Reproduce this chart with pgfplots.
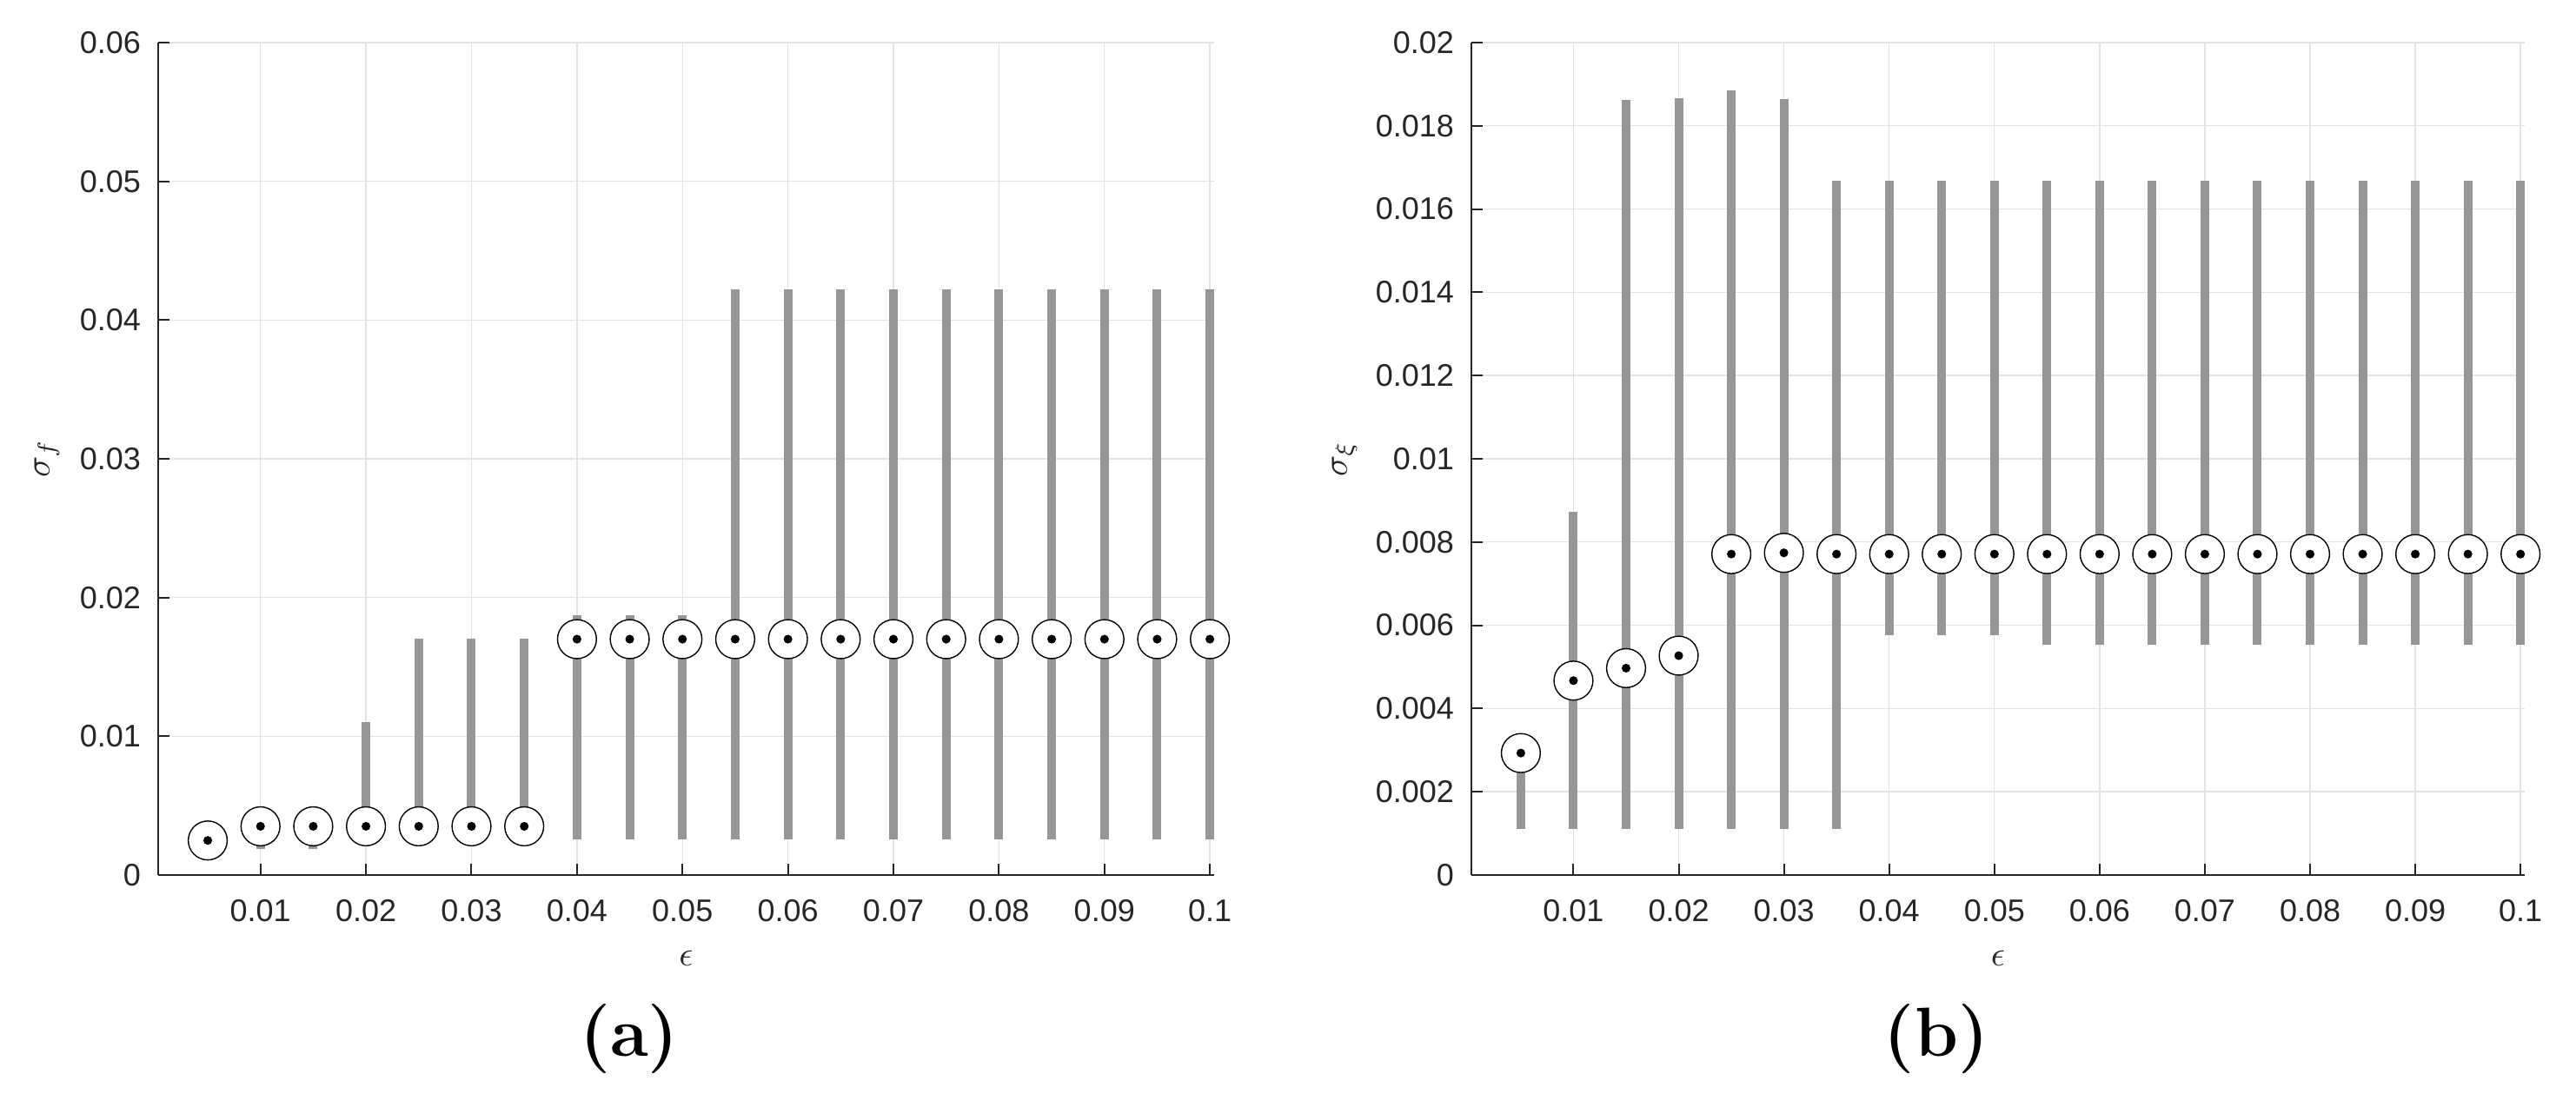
\documentclass[border=0pt]{standalone}
\usepackage{fontspec}
\newfontfamily\helv{Liberation Sans}
\usepackage{pgfplots}
\usepackage{pgfplotstable}
\pgfplotsset{compat=1.18}
\definecolor{axc}{HTML}{262626}
\definecolor{barc}{HTML}{969696}
\definecolor{gridc}{HTML}{E3E3E3}

\pgfplotstableread{
x med lo hi
0.005 0.00249 0.0023 0.0027
0.010 0.00351 0.0019 0.0035
0.015 0.00351 0.0019 0.0035
0.020 0.00351 0.0030 0.01102
0.025 0.00351 0.0030 0.01702
0.030 0.00351 0.0030 0.01702
0.035 0.00351 0.0030 0.01702
0.040 0.01700 0.00257 0.01872
0.045 0.01700 0.00257 0.01872
0.050 0.01700 0.00257 0.01872
0.055 0.01700 0.00257 0.04224
0.060 0.01700 0.00257 0.04224
0.065 0.01700 0.00257 0.04224
0.070 0.01700 0.00257 0.04224
0.075 0.01700 0.00257 0.04224
0.080 0.01700 0.00257 0.04224
0.085 0.01700 0.00257 0.04224
0.090 0.01700 0.00257 0.04224
0.095 0.01700 0.00257 0.04224
0.100 0.01700 0.00257 0.04224
}\dataA

\pgfplotstableread{
x med lo hi
0.005 0.00293 0.00111 0.0030
0.010 0.00467 0.00111 0.00873
0.015 0.00497 0.00111 0.01863
0.020 0.00527 0.00111 0.01867
0.025 0.00771 0.00111 0.01886
0.030 0.00774 0.00111 0.01864
0.035 0.00771 0.00111 0.01668
0.040 0.00771 0.00577 0.01668
0.045 0.00771 0.00577 0.01668
0.050 0.00771 0.00577 0.01668
0.055 0.00771 0.00553 0.01668
0.060 0.00771 0.00553 0.01668
0.065 0.00771 0.00553 0.01668
0.070 0.00771 0.00553 0.01668
0.075 0.00771 0.00553 0.01668
0.080 0.00771 0.00553 0.01668
0.085 0.00771 0.00553 0.01668
0.090 0.00771 0.00553 0.01668
0.095 0.00771 0.00553 0.01668
0.100 0.00771 0.00553 0.01668
}\dataB

\pgfplotsset{mystyle/.style={
  scale only axis, height=239.5pt, anchor=south west,
  axis x line*=bottom, axis y line*=left,
  axis line style={axc, line width=0.5pt},
  tick align=inside, major tick length=3.25pt,
  major tick style={axc, line width=0.5pt},
  xmajorgrids, ymajorgrids, grid style={gridc, line width=0.35pt},
  scaled ticks=false, scaled x ticks=false, scaled y ticks=false,
  xmin=0.0003, xmax=0.1004,
  xtick={0.01,0.02,0.03,0.04,0.05,0.06,0.07,0.08,0.09,0.1},
  xticklabels={0.01,0.02,0.03,0.04,0.05,0.06,0.07,0.08,0.09,0.1},
  ticklabel style={font=\helv\fontsize{9}{10}\selectfont, text=axc},
  xticklabel style={yshift=-3.5pt},
  yticklabel style={xshift=-1.5pt},
  clip=false,
  xlabel={$\epsilon$},
  xlabel style={at={(axis description cs:0.5,-0.1002)}, anchor=center, font=\fontsize{10}{12}\selectfont, text=axc},
  ylabel style={anchor=center, font=\fontsize{10}{12}\selectfont, text=axc},
}}

\newcommand{\drawseries}[1]{%
  \addplot[only marks, mark=none, forget plot,
    error bars/.cd, y dir=both, y explicit, error mark=none,
    error bar style={barc, line width=2.5pt}]
    table[x=x, y=med, y error plus expr=\thisrow{hi}-\thisrow{med},
          y error minus expr=\thisrow{med}-\thisrow{lo}] {#1};
  \addplot[only marks, mark=*, mark size=5.6pt,
    mark options={fill=white, draw=black, line width=0.35pt}]
    table[x=x, y=med] {#1};
  \addplot[only marks, mark=*, mark size=1.05pt,
    mark options={fill=black, draw=none}]
    table[x=x, y=med] {#1};
}

\begin{document}
\begin{tikzpicture}
\useasboundingbox (0,0) rectangle (741pt,314.75pt);

\begin{axis}[mystyle, at={(45.5pt,63pt)}, width=303.75pt,
  ymin=0, ymax=0.06,
  ytick={0,0.01,0.02,0.03,0.04,0.05,0.06},
  yticklabels={0,0.01,0.02,0.03,0.04,0.05,0.06},
  ylabel={$\sigma_f$},
  ylabel style={at={(axis description cs:-0.1053,0.5)}},
]
\drawseries{\dataA}
\end{axis}

\begin{axis}[mystyle, at={(423.25pt,63pt)}, width=303pt,
  ymin=0, ymax=0.02,
  ytick={0,0.002,0.004,0.006,0.008,0.01,0.012,0.014,0.016,0.018,0.02},
  yticklabels={0,0.002,0.004,0.006,0.008,0.01,0.012,0.014,0.016,0.018,0.02},
  ylabel={$\sigma_\xi$},
  ylabel style={at={(axis description cs:-0.1205,0.5)}},
]
\drawseries{\dataB}
\end{axis}

\node[font=\bfseries\fontsize{20}{24}\selectfont] at (181pt,15.75pt) {(a)};
\node[font=\bfseries\fontsize{20}{24}\selectfont] at (557pt,15.75pt) {(b)};
\end{tikzpicture}
\end{document}
